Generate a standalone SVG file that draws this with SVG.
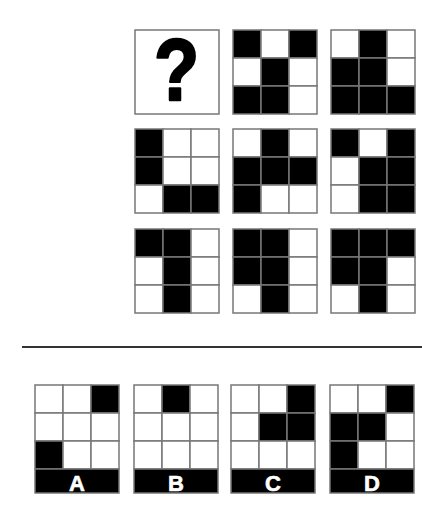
<svg xmlns="http://www.w3.org/2000/svg" width="422" height="518" viewBox="0 0 422 518">
<style>
.b{fill:#000;stroke:#777;stroke-width:1.5}
.w{fill:#fff;stroke:#777;stroke-width:1.5}
.q{font-family:"Liberation Sans",Arial,sans-serif;font-weight:bold;font-size:88px;fill:#000;stroke:#000;stroke-width:2.5;stroke-linejoin:round;text-anchor:middle}
.lbl{font-family:"Liberation Sans",Arial,sans-serif;font-weight:bold;font-size:22px;fill:#fff;stroke:#fff;stroke-width:0.6;text-anchor:middle}
</style>
<rect width="422" height="518" fill="#fff"/>
<g id="box-question">
<rect x="135" y="30" width="84" height="84" class="w"/>
<text transform="translate(176.5,100) scale(0.84,1)" class="q">?</text>
</g>
<g id="box-1-2">
<rect x="233" y="30" width="28" height="28" class="b"/><rect x="261" y="30" width="28" height="28" class="w"/><rect x="289" y="30" width="28" height="28" class="b"/>
<rect x="233" y="58" width="28" height="28" class="w"/><rect x="261" y="58" width="28" height="28" class="b"/><rect x="289" y="58" width="28" height="28" class="w"/>
<rect x="233" y="86" width="28" height="28" class="b"/><rect x="261" y="86" width="28" height="28" class="b"/><rect x="289" y="86" width="28" height="28" class="w"/>
</g>
<g id="box-1-3">
<rect x="331" y="30" width="28" height="28" class="w"/><rect x="359" y="30" width="28" height="28" class="b"/><rect x="387" y="30" width="28" height="28" class="w"/>
<rect x="331" y="58" width="28" height="28" class="b"/><rect x="359" y="58" width="28" height="28" class="b"/><rect x="387" y="58" width="28" height="28" class="w"/>
<rect x="331" y="86" width="28" height="28" class="b"/><rect x="359" y="86" width="28" height="28" class="b"/><rect x="387" y="86" width="28" height="28" class="b"/>
</g>
<g id="box-2-1">
<rect x="135" y="129" width="28" height="28" class="b"/><rect x="163" y="129" width="28" height="28" class="w"/><rect x="191" y="129" width="28" height="28" class="w"/>
<rect x="135" y="157" width="28" height="28" class="b"/><rect x="163" y="157" width="28" height="28" class="w"/><rect x="191" y="157" width="28" height="28" class="w"/>
<rect x="135" y="185" width="28" height="28" class="w"/><rect x="163" y="185" width="28" height="28" class="b"/><rect x="191" y="185" width="28" height="28" class="b"/>
</g>
<g id="box-2-2">
<rect x="233" y="129" width="28" height="28" class="w"/><rect x="261" y="129" width="28" height="28" class="b"/><rect x="289" y="129" width="28" height="28" class="w"/>
<rect x="233" y="157" width="28" height="28" class="b"/><rect x="261" y="157" width="28" height="28" class="b"/><rect x="289" y="157" width="28" height="28" class="b"/>
<rect x="233" y="185" width="28" height="28" class="b"/><rect x="261" y="185" width="28" height="28" class="w"/><rect x="289" y="185" width="28" height="28" class="w"/>
</g>
<g id="box-2-3">
<rect x="331" y="129" width="28" height="28" class="b"/><rect x="359" y="129" width="28" height="28" class="w"/><rect x="387" y="129" width="28" height="28" class="b"/>
<rect x="331" y="157" width="28" height="28" class="w"/><rect x="359" y="157" width="28" height="28" class="b"/><rect x="387" y="157" width="28" height="28" class="b"/>
<rect x="331" y="185" width="28" height="28" class="w"/><rect x="359" y="185" width="28" height="28" class="b"/><rect x="387" y="185" width="28" height="28" class="b"/>
</g>
<g id="box-3-1">
<rect x="135" y="229" width="28" height="28" class="b"/><rect x="163" y="229" width="28" height="28" class="b"/><rect x="191" y="229" width="28" height="28" class="w"/>
<rect x="135" y="257" width="28" height="28" class="w"/><rect x="163" y="257" width="28" height="28" class="b"/><rect x="191" y="257" width="28" height="28" class="w"/>
<rect x="135" y="285" width="28" height="28" class="w"/><rect x="163" y="285" width="28" height="28" class="b"/><rect x="191" y="285" width="28" height="28" class="w"/>
</g>
<g id="box-3-2">
<rect x="233" y="229" width="28" height="28" class="b"/><rect x="261" y="229" width="28" height="28" class="b"/><rect x="289" y="229" width="28" height="28" class="w"/>
<rect x="233" y="257" width="28" height="28" class="b"/><rect x="261" y="257" width="28" height="28" class="b"/><rect x="289" y="257" width="28" height="28" class="w"/>
<rect x="233" y="285" width="28" height="28" class="w"/><rect x="261" y="285" width="28" height="28" class="b"/><rect x="289" y="285" width="28" height="28" class="w"/>
</g>
<g id="box-3-3">
<rect x="331" y="229" width="28" height="28" class="b"/><rect x="359" y="229" width="28" height="28" class="b"/><rect x="387" y="229" width="28" height="28" class="b"/>
<rect x="331" y="257" width="28" height="28" class="b"/><rect x="359" y="257" width="28" height="28" class="b"/><rect x="387" y="257" width="28" height="28" class="w"/>
<rect x="331" y="285" width="28" height="28" class="w"/><rect x="359" y="285" width="28" height="28" class="b"/><rect x="387" y="285" width="28" height="28" class="w"/>
</g>
<g id="connectors">
<line x1="22" y1="347" x2="422" y2="347" stroke="#333" stroke-width="2"/>
</g>
<g id="option-A">
<rect x="35" y="385" width="28" height="28" class="w"/><rect x="63" y="385" width="28" height="28" class="w"/><rect x="91" y="385" width="28" height="28" class="b"/>
<rect x="35" y="413" width="28" height="28" class="w"/><rect x="63" y="413" width="28" height="28" class="w"/><rect x="91" y="413" width="28" height="28" class="w"/>
<rect x="35" y="441" width="28" height="28" class="b"/><rect x="63" y="441" width="28" height="28" class="w"/><rect x="91" y="441" width="28" height="28" class="w"/>
<rect x="35" y="469" width="84" height="24" class="b"/>
<text x="77" y="491" class="lbl">A</text>
</g>
<g id="option-B">
<rect x="134" y="385" width="28" height="28" class="w"/><rect x="162" y="385" width="28" height="28" class="b"/><rect x="190" y="385" width="28" height="28" class="w"/>
<rect x="134" y="413" width="28" height="28" class="w"/><rect x="162" y="413" width="28" height="28" class="w"/><rect x="190" y="413" width="28" height="28" class="w"/>
<rect x="134" y="441" width="28" height="28" class="w"/><rect x="162" y="441" width="28" height="28" class="w"/><rect x="190" y="441" width="28" height="28" class="w"/>
<rect x="134" y="469" width="84" height="24" class="b"/>
<text x="176" y="491" class="lbl">B</text>
</g>
<g id="option-C">
<rect x="231" y="385" width="28" height="28" class="w"/><rect x="259" y="385" width="28" height="28" class="w"/><rect x="287" y="385" width="28" height="28" class="b"/>
<rect x="231" y="413" width="28" height="28" class="w"/><rect x="259" y="413" width="28" height="28" class="b"/><rect x="287" y="413" width="28" height="28" class="b"/>
<rect x="231" y="441" width="28" height="28" class="w"/><rect x="259" y="441" width="28" height="28" class="w"/><rect x="287" y="441" width="28" height="28" class="w"/>
<rect x="231" y="469" width="84" height="24" class="b"/>
<text x="273" y="491" class="lbl">C</text>
</g>
<g id="option-D">
<rect x="330" y="385" width="28" height="28" class="w"/><rect x="358" y="385" width="28" height="28" class="w"/><rect x="386" y="385" width="28" height="28" class="b"/>
<rect x="330" y="413" width="28" height="28" class="b"/><rect x="358" y="413" width="28" height="28" class="b"/><rect x="386" y="413" width="28" height="28" class="w"/>
<rect x="330" y="441" width="28" height="28" class="b"/><rect x="358" y="441" width="28" height="28" class="w"/><rect x="386" y="441" width="28" height="28" class="w"/>
<rect x="330" y="469" width="84" height="24" class="b"/>
<text x="372" y="491" class="lbl">D</text>
</g>
</svg>
